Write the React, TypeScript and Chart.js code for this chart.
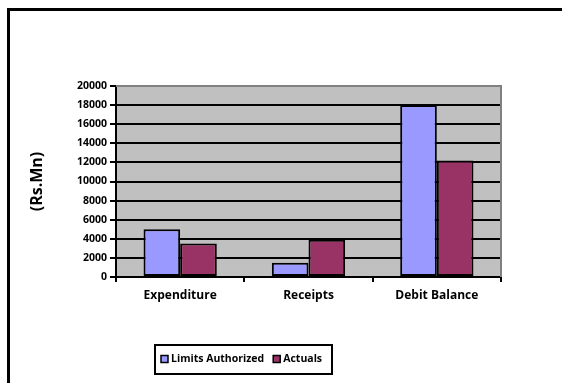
import React, { useEffect, useRef } from "react";
import { Chart, registerables } from "chart.js";

Chart.register(...registerables);

const categories = ["Expenditure", "Receipts", "Debit Balance"];
const limitsAuthorized = [5000, 1500, 18000];
const actuals = [3500, 3900, 12200];
const seriesNames = ["Limits Authorized", "Actuals"];
const seriesColors = ["#9999ff", "#993366"];
const yTitle = "(Rs.Mn)";
const FONT = "'Open Sans', sans-serif";

const framePlugin = {
  id: "frame",
  beforeDraw(chart: any) {
    const { ctx, chartArea } = chart;
    ctx.save();
    ctx.fillStyle = "#ffffff";
    ctx.fillRect(0, 0, chart.width, chart.height);
    ctx.fillStyle = "#000";
    ctx.fillRect(7, 8, 3, chart.height);
    ctx.fillRect(7, 8, chart.width, 3);
    ctx.fillStyle = "#c0c0c0";
    ctx.fillRect(chartArea.left, chartArea.top, chartArea.right - chartArea.left, chartArea.bottom - chartArea.top);
    ctx.restore();
  },
  beforeDatasetsDraw(chart: any) {
    const { ctx, chartArea } = chart;
    ctx.save();
    ctx.strokeStyle = "#808080";
    ctx.lineWidth = 2;
    ctx.beginPath();
    ctx.moveTo(chartArea.left, chartArea.top);
    ctx.lineTo(chartArea.right, chartArea.top);
    ctx.lineTo(chartArea.right, chartArea.bottom);
    ctx.stroke();
    ctx.restore();
  },
  afterDraw(chart: any) {
    const { ctx } = chart;
    ctx.save();
    const bx = 155, by = 345, bw = 177, bh = 29;
    ctx.fillStyle = "#fff";
    ctx.fillRect(bx, by, bw, bh);
    ctx.strokeStyle = "#000";
    ctx.lineWidth = 2;
    ctx.strokeRect(bx, by, bw, bh);
    ctx.font = `bold 10.5px ${FONT}`;
    ctx.textBaseline = "middle";
    ctx.textAlign = "left";
    const cy = by + bh / 2;
    let x = bx + 6;
    seriesNames.forEach((name, i) => {
      ctx.fillStyle = seriesColors[i];
      ctx.fillRect(x, cy - 4, 7, 7);
      ctx.lineWidth = 1.5;
      ctx.strokeStyle = "#000";
      ctx.strokeRect(x, cy - 4, 7, 7);
      ctx.fillStyle = "#000";
      ctx.fillText(name, x + 10, cy);
      x += 10 + ctx.measureText(name).width + 9;
    });
    ctx.restore();
  },
};

export default function App() {
  const ref = useRef<HTMLCanvasElement>(null);
  useEffect(() => {
    if (!ref.current) return;
    const chart = new Chart(ref.current, {
      type: "bar",
      data: {
        labels: categories,
        datasets: [
          {
            label: seriesNames[0],
            data: limitsAuthorized,
            backgroundColor: seriesColors[0],
            borderColor: "#000",
            borderWidth: 2,
            borderSkipped: false,
          },
          {
            label: seriesNames[1],
            data: actuals,
            backgroundColor: seriesColors[1],
            borderColor: "#000",
            borderWidth: 2,
            borderSkipped: false,
          },
        ],
      },
      options: {
        responsive: false,
        animation: false,
        devicePixelRatio: 1,
        categoryPercentage: 0.571,
        barPercentage: 1,
        layout: { padding: { left: 24, top: 86, right: 61, bottom: 66 } },
        plugins: {
          legend: { display: false },
          tooltip: { enabled: false },
        },
        scales: {
          x: {
            afterFit: (s: any) => {
              s.height = 40;
            },
            grid: {
              display: true,
              drawOnChartArea: false,
              drawTicks: true,
              tickLength: 5,
              color: "#000",
              lineWidth: 2,
              offset: true,
            },
            border: { display: true, color: "#000", width: 2 },
            ticks: {
              color: "#000",
              font: { family: FONT, size: 12, weight: "bold" },
              padding: 6,
            },
          },
          y: {
            min: 0,
            max: 20000,
            afterFit: (s: any) => {
              s.width = 92;
            },
            title: {
              display: true,
              text: yTitle,
              color: "#000",
              font: { family: FONT, size: 16, weight: "bold" },
            },
            grid: {
              color: (c: any) => (c.tick && c.tick.value === 20000 ? "#808080" : "#000"),
              tickColor: "#000",
              lineWidth: 2,
              tickLength: 6,
            },
            border: { display: true, color: "#000", width: 2 },
            ticks: {
              stepSize: 2000,
              color: "#000",
              padding: 3,
              font: { family: FONT, size: 10.5, weight: "bold" },
              callback: (v: any) => String(v),
            },
          },
        },
      },
      plugins: [framePlugin],
    });
    return () => chart.destroy();
  }, []);
  return (
    <div style={{ position: "absolute", left: 0, top: 0, width: 562, height: 383 }}>
      <canvas ref={ref} width={562} height={383} style={{ display: "block" }} />
    </div>
  );
}
